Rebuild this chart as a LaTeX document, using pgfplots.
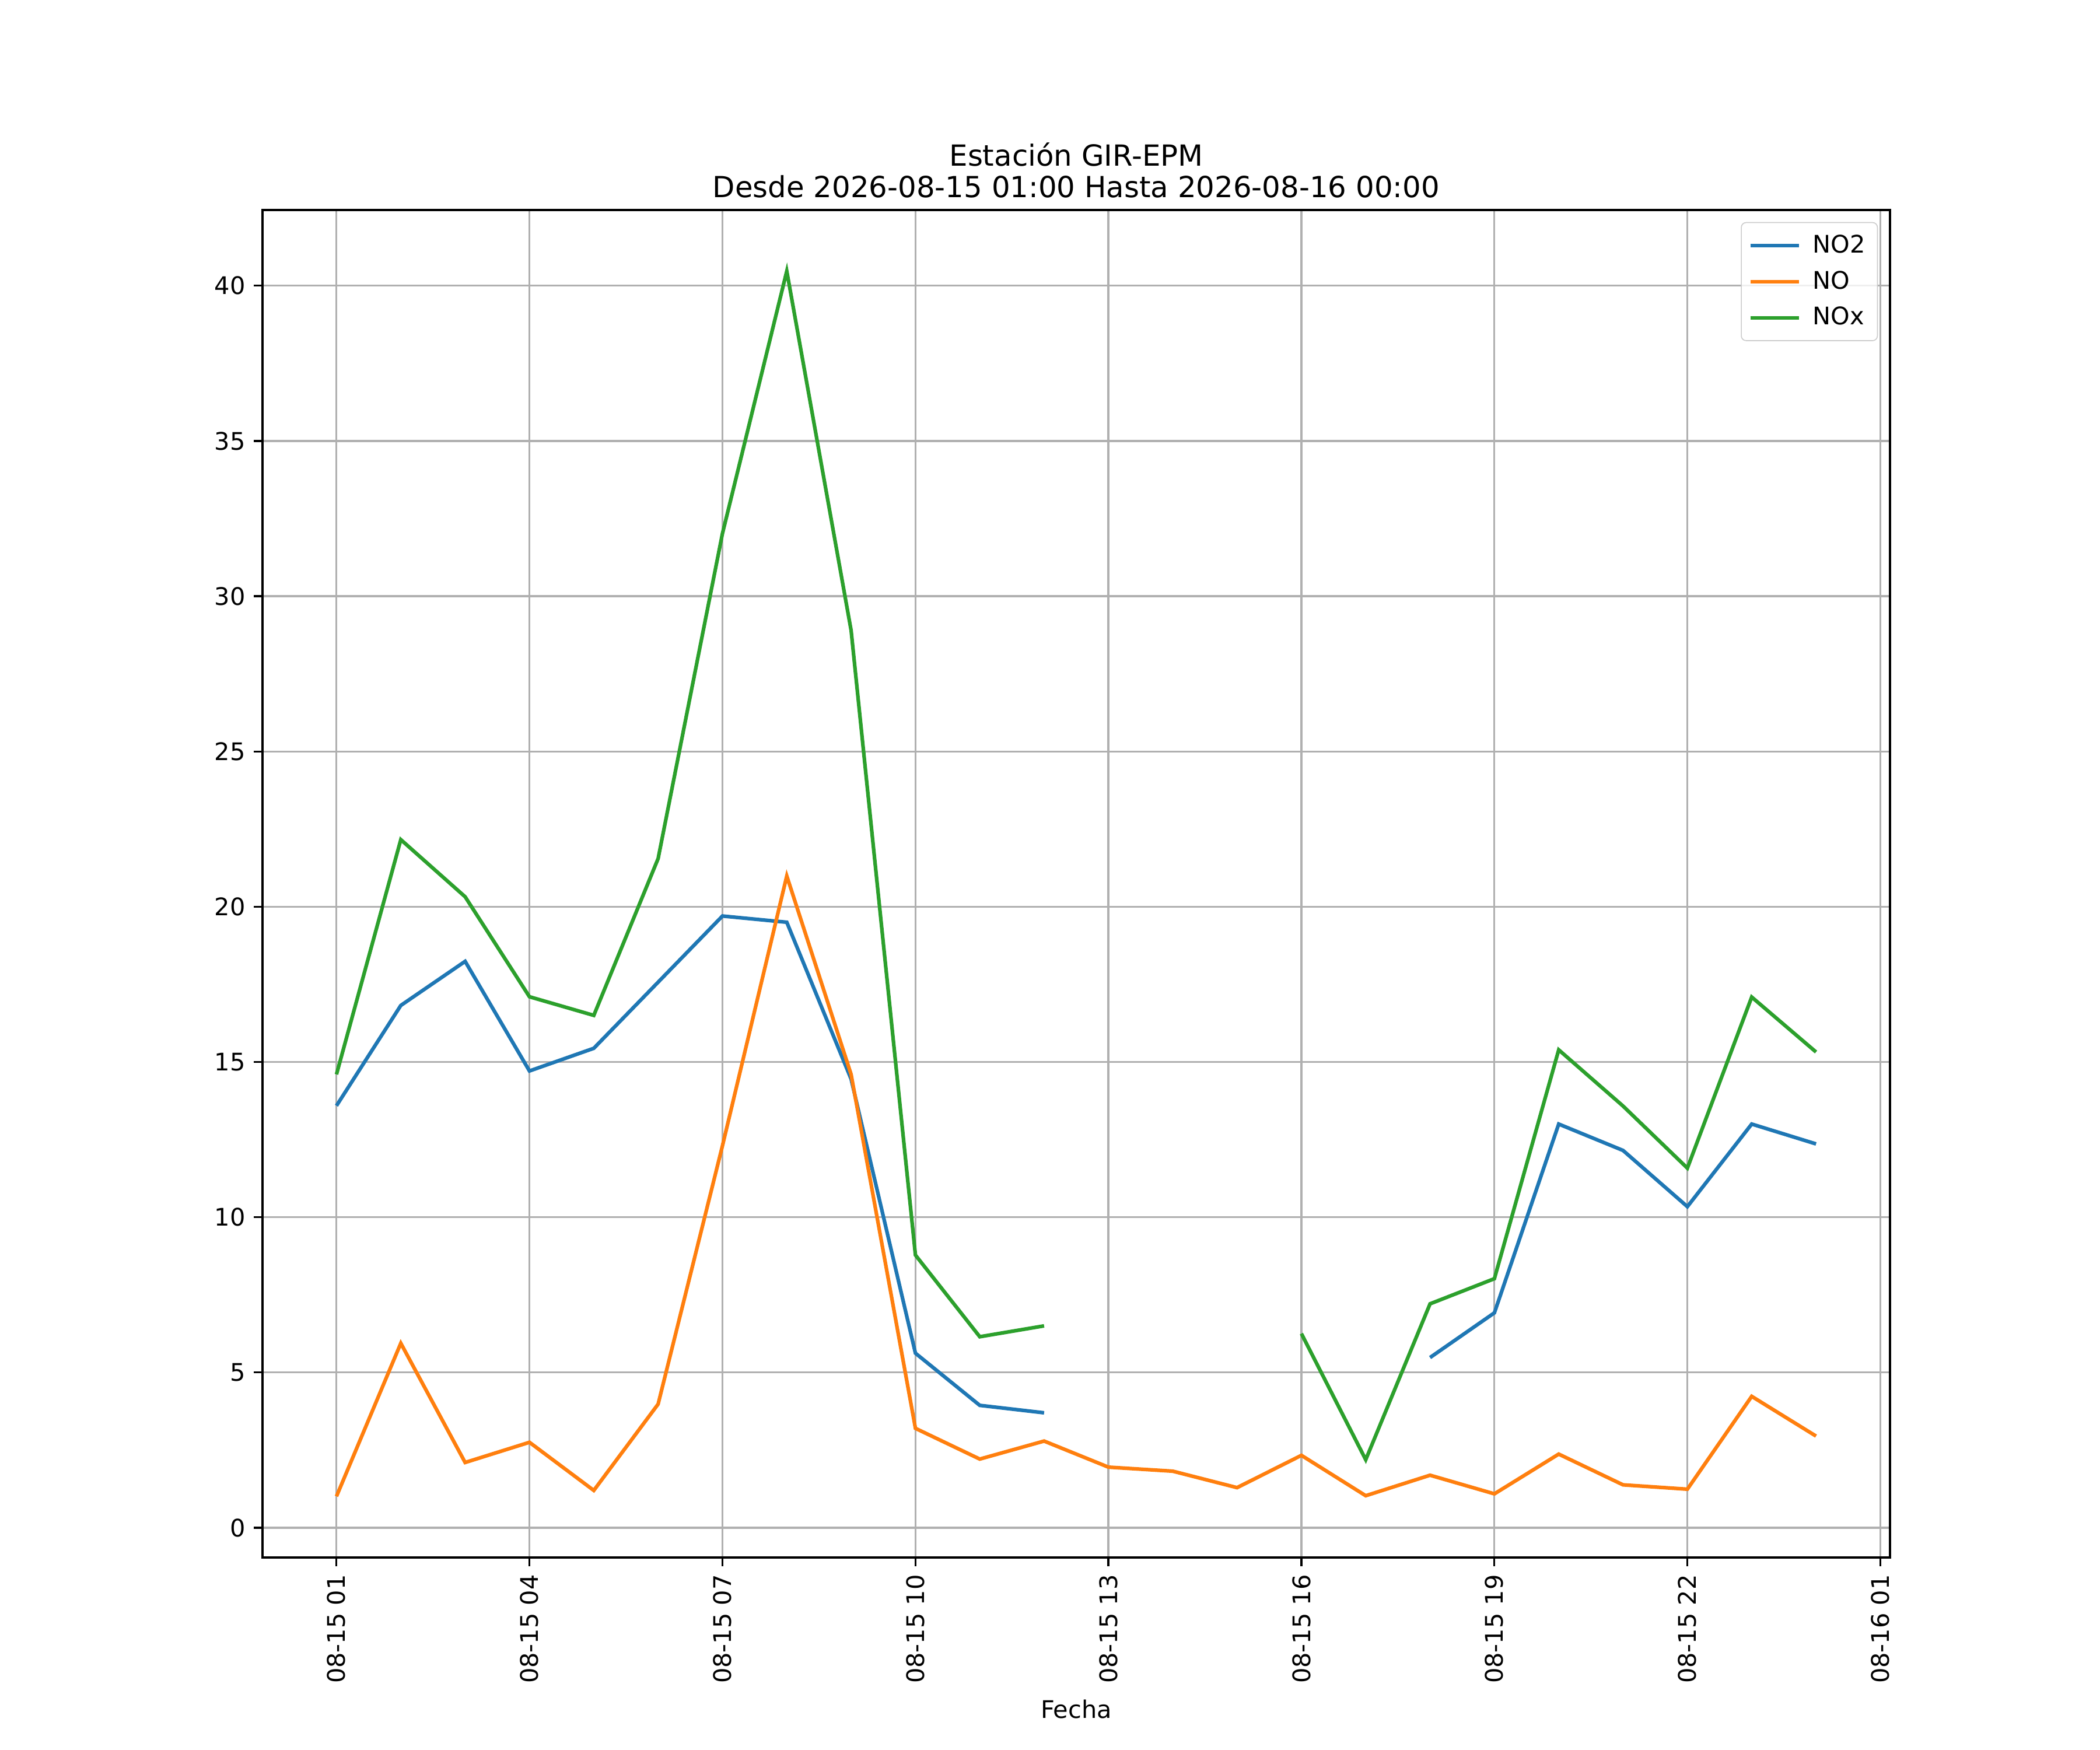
\documentclass[border=0pt]{standalone}
\usepackage{fontspec}
\setmainfont{DejaVu Sans}
\usepackage{pgfplots}
\pgfplotsset{compat=1.18}
\definecolor{tabblue}{HTML}{1F77B4}
\definecolor{taborange}{HTML}{FF7F0E}
\definecolor{tabgreen}{HTML}{2CA02C}
\definecolor{gridgray}{HTML}{B0B0B0}
\begin{document}
\begin{tikzpicture}
\path (0,0) rectangle (12in,10in);
\begin{axis}[
  at={(1.5in,1.1in)}, anchor=south west,
  scale only axis, width=9.3in, height=7.7in,
  xmin=-0.15, xmax=25.15, ymin=-0.96, ymax=42.44,
  xtick={1,4,7,10,13,16,19,22,25},
  xticklabels={08-15 01,08-15 04,08-15 07,08-15 10,08-15 13,08-15 16,08-15 19,08-15 22,08-16 01},
  ytick={0,5,10,15,20,25,30,35,40},
  grid=major,
  grid style={color=gridgray, line width=0.8pt},
  axis line style={line width=0.8pt},
  tick style={line width=0.8pt, black},
  tick align=outside, major tick length=3.5pt,
  tick pos=left,
  xticklabel style={rotate=90, anchor=east},
  /pgf/number format/assume math mode=true,
  ticklabel style={font=\fontsize{10}{12}\selectfont},
  label style={font=\fontsize{10}{12}\selectfont},
  title={Estación GIR-EPM\\Desde 2026-08-15 01:00 Hasta 2026-08-16 00:00},
  title style={align=center, font=\fontsize{12}{13}\selectfont, yshift=-4.5pt},
  xlabel={Fecha},
  unbounded coords=jump,
  legend cell align=left,
  legend style={at={(1,1)}, anchor=north east, xshift=-5pt, yshift=-5pt,
    draw=black!20, rounded corners=2pt, fill=white, fill opacity=0.8, text opacity=1,
    font=\fontsize{10}{12}\selectfont, inner sep=3pt, row sep=2pt},
  legend image code/.code={\draw[#1] (0pt,0pt) -- (20pt,0pt); \path (23pt,0pt);},
]
\addplot[tabblue, line width=1.5pt] coordinates {
(1,13.59) (2,16.82) (3,18.24) (4,14.71) (5,15.44) (6,17.57) (7,19.70) (8,19.50) (9,14.45) (10,5.62) (11,3.94) (12,3.70)
(13,nan) (14,nan) (15,nan) (16,nan) (17,nan)
(18,5.48) (19,6.92) (20,13.00) (21,12.15) (22,10.34) (23,13.00) (24,12.36)};
\addlegendentry{NO2}
\addplot[taborange, line width=1.5pt] coordinates {
(1,1.01) (2,5.94) (3,2.10) (4,2.75) (5,1.20) (6,3.98) (7,12.3) (8,20.99) (9,14.6) (10,3.20) (11,2.21) (12,2.79)
(13,1.95) (14,1.82) (15,1.29) (16,2.33) (17,1.03) (18,1.69) (19,1.09) (20,2.37) (21,1.38) (22,1.24) (23,4.23) (24,2.95)};
\addlegendentry{NO}
\addplot[tabgreen, line width=1.5pt] coordinates {
(1,14.60) (2,22.16) (3,20.32) (4,17.10) (5,16.50) (6,21.55) (7,32.02) (8,40.47) (9,28.90) (10,8.78) (11,6.15) (12,6.50)
(13,nan) (14,nan) (15,nan)
(16,6.25) (17,2.19) (18,7.21) (19,8.02) (20,15.39) (21,13.58) (22,11.58) (23,17.09) (24,15.32)};
\addlegendentry{NOx}
\end{axis}
\end{tikzpicture}
\end{document}
